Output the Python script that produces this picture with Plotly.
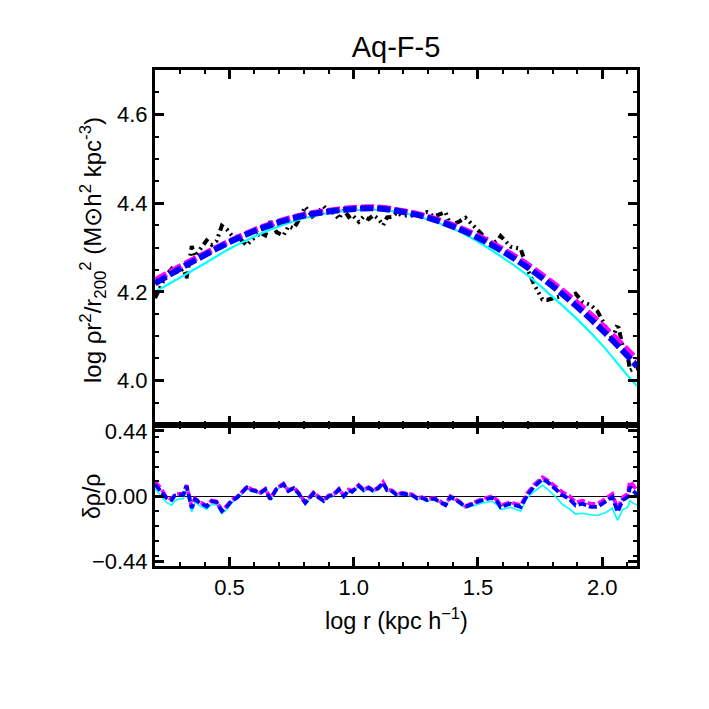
import plotly.graph_objects as go

# ---------------- data ----------------
x_model = [0.2, 0.3, 0.4, 0.5, 0.6, 0.7, 0.8, 0.9, 1.0, 1.1, 1.2, 1.3, 1.4,
           1.5, 1.6, 1.7, 1.8, 1.9, 2.0, 2.1, 2.14]
fit_magenta = [4.226, 4.257, 4.286, 4.314, 4.339, 4.359, 4.374, 4.383, 4.389, 4.390,
               4.382, 4.369, 4.350, 4.326, 4.296, 4.261, 4.220, 4.175, 4.125, 4.070, 4.047]
fit_blue = [4.219, 4.252, 4.283, 4.312, 4.337, 4.357, 4.372, 4.381, 4.387, 4.388,
            4.380, 4.367, 4.347, 4.322, 4.291, 4.255, 4.213, 4.166, 4.114, 4.057, 4.032]
fit_cyan = [4.200, 4.232, 4.264, 4.297, 4.325, 4.348, 4.366, 4.378, 4.384, 4.385,
            4.378, 4.363, 4.342, 4.313, 4.277, 4.237, 4.189, 4.138, 4.080, 4.013, 3.988]

x_data = [0.200, 0.225, 0.245, 0.267, 0.280, 0.294, 0.314, 0.327, 0.348, 0.361,
          0.381, 0.408, 0.428, 0.448, 0.469, 0.489, 0.509, 0.530, 0.543, 0.570,
          0.590, 0.605, 0.623, 0.644, 0.664, 0.690, 0.717, 0.737, 0.758, 0.777,
          0.805, 0.822, 0.838, 0.852, 0.879, 0.899, 0.920, 0.940, 0.960, 0.980,
          0.993, 1.020, 1.040, 1.060, 1.080, 1.100, 1.118, 1.134, 1.154, 1.174,
          1.194, 1.221, 1.235, 1.255, 1.275, 1.295, 1.322, 1.342, 1.369, 1.389,
          1.423, 1.450, 1.470, 1.497, 1.517, 1.557, 1.578, 1.591, 1.631, 1.672,
          1.698, 1.725, 1.759, 1.779, 1.813, 1.840, 1.866, 1.893, 1.920, 1.954,
          1.981, 2.014, 2.041, 2.062, 2.082, 2.102, 2.112, 2.122, 2.140]
profile_data = [4.186, 4.214, 4.238, 4.252, 4.243, 4.246, 4.252, 4.231, 4.303, 4.280,
                4.297, 4.316, 4.306, 4.315, 4.349, 4.341, 4.327, 4.324, 4.319, 4.305,
                4.318, 4.323, 4.333, 4.327, 4.359, 4.334, 4.327, 4.348, 4.343, 4.360,
                4.392, 4.378, 4.366, 4.377, 4.393, 4.381, 4.378, 4.364, 4.385, 4.369,
                4.374, 4.358, 4.370, 4.364, 4.373, 4.364, 4.350, 4.368, 4.369, 4.379,
                4.372, 4.372, 4.372, 4.380, 4.375, 4.380, 4.370, 4.374, 4.380, 4.351,
                4.358, 4.367, 4.355, 4.340, 4.329, 4.308, 4.315, 4.326, 4.302, 4.297,
                4.253, 4.218, 4.183, 4.182, 4.187, 4.191, 4.189, 4.196, 4.178, 4.170,
                4.156, 4.123, 4.093, 4.128, 4.079, 4.058, 4.023, 4.026, 4.028]
res_blue = [0.08, 0.03, -0.01, -0.025, 0.005, 0.01, 0.01, 0.07, -0.08, -0.02,
            -0.045, -0.068, -0.034, -0.04, -0.10, -0.07, -0.03, -0.01, 0.01, 0.06,
            0.04, 0.035, 0.02, 0.045, -0.02, 0.05, 0.08, 0.035, 0.055, 0.02,
            -0.045, -0.01, 0.02, 0.0, -0.032, 0.0, 0.01, 0.045, 0.0, 0.04,
            0.03, 0.07, 0.04, 0.056, 0.034, 0.056, 0.09, 0.04, 0.034, 0.007,
            0.018, 0.011, 0.007, -0.016, -0.011, -0.027, -0.016, -0.034, -0.06, -0.005,
            -0.038, -0.072, -0.056, -0.038, -0.027, -0.01, -0.038, -0.072, -0.05, -0.072,
            0.007, 0.063, 0.115, 0.097, 0.047, 0.007, -0.016, -0.061, -0.05, -0.072,
            -0.072, -0.038, -0.005, -0.106, -0.027, -0.005, 0.063, 0.04, 0.01]
res_magenta = [0.10, 0.05, -0.005, -0.02, 0.01, 0.015, 0.015, 0.075, -0.075, -0.015,
               -0.04, -0.063, -0.029, -0.035, -0.095, -0.065, -0.025, -0.005, 0.015, 0.065,
               0.045, 0.04, 0.025, 0.05, -0.015, 0.055, 0.085, 0.04, 0.06, 0.025,
               -0.04, -0.005, 0.025, 0.005, -0.027, 0.005, 0.015, 0.05, 0.005, 0.045,
               0.035, 0.075, 0.045, 0.061, 0.039, 0.061, 0.095, 0.045, 0.039, 0.012,
               0.023, 0.016, 0.012, -0.011, -0.006, -0.022, -0.011, -0.029, -0.055, 0.0,
               -0.033, -0.067, -0.051, -0.03, -0.017, 0.0, -0.028, -0.062, -0.04, -0.062,
               0.019, 0.075, 0.127, 0.109, 0.067, 0.027, 0.004, -0.041, -0.03, -0.052,
               -0.052, -0.018, 0.015, -0.086, -0.007, 0.015, 0.1, 0.08, 0.04]
res_cyan = [0.05, 0.0, -0.04, -0.061, -0.03, -0.02, -0.015, 0.045, -0.106, -0.04,
            -0.065, -0.088, -0.054, -0.06, -0.117, -0.09, -0.045, -0.02, 0.0, 0.052,
            0.03, 0.03, 0.015, 0.04, -0.025, 0.045, 0.075, 0.03, 0.05, 0.015,
            -0.05, -0.015, 0.015, -0.005, -0.037, -0.005, 0.005, 0.04, -0.005, 0.035,
            0.025, 0.065, 0.035, 0.051, 0.029, 0.051, 0.085, 0.035, 0.029, 0.002,
            0.013, 0.006, 0.002, -0.021, -0.016, -0.032, -0.021, -0.039, -0.065, -0.01,
            -0.043, -0.08, -0.07, -0.055, -0.045, -0.034, -0.06, -0.09, -0.075, -0.1,
            -0.01, 0.03, 0.074, 0.05, -0.005, -0.056, -0.083, -0.12, -0.115, -0.125,
            -0.13, -0.11, -0.08, -0.163, -0.09, -0.075, -0.03, -0.045, -0.06]

x_ticks = [0.5, 1.0, 1.5, 2.0]
x_ticklabels = ["0.5", "1.0", "1.5", "2.0"]
top_ticks = [4.0, 4.2, 4.4, 4.6]
top_ticklabels = ["4.0", "4.2", "4.4", "4.6"]
bot_ticks = [-0.44, 0.0, 0.44]
bot_ticklabels = ["\u22120.44", "0.00", "0.44"]

# ---------------- figure ----------------
OFF = 8                      # default page body margin
W, H = 693, 693              # figure size so that the page fits the window
# target plot-area edges in window pixels
L_s, R_s, T_s, B_s = 155, 637, 70, 566
split_s = 425
L, R, T, B = L_s - OFF, R_s - OFF, T_s - OFF, B_s - OFF
frac = (B_s - split_s) / (B_s - T_s)

FONT = "Liberation Sans, Arial, Helvetica, sans-serif"

fig = go.Figure()

# top panel
fig.add_trace(go.Scatter(x=x_data, y=profile_data, mode="lines", xaxis="x2", yaxis="y",
                         line=dict(color="black", width=4,
                                   dash="7px,4px,2px,4px,2px,4px,2px,4px")))
fig.add_trace(go.Scatter(x=x_model, y=fit_cyan, mode="lines", xaxis="x2", yaxis="y",
                         line=dict(color="#00FFFF", width=2.2, shape="spline")))
fig.add_trace(go.Scatter(x=x_model, y=fit_magenta, mode="lines", xaxis="x2", yaxis="y",
                         line=dict(color="#FF00FF", width=6, dash="13px,4px", shape="spline")))
fig.add_trace(go.Scatter(x=x_model, y=fit_blue, mode="lines", xaxis="x2", yaxis="y",
                         line=dict(color="#0000FF", width=6, dash="13px,4px", shape="spline")))

# bottom panel
fig.add_trace(go.Scatter(x=x_data, y=res_cyan, mode="lines", xaxis="x", yaxis="y2",
                         line=dict(color="#00FFFF", width=1.6)))
fig.add_trace(go.Scatter(x=x_data, y=res_magenta, mode="lines", xaxis="x", yaxis="y2",
                         line=dict(color="#FF00FF", width=3.8, dash="8px,3px")))
fig.add_trace(go.Scatter(x=x_data, y=res_blue, mode="lines", xaxis="x", yaxis="y2",
                         line=dict(color="#0000FF", width=3.8, dash="8px,3px")))

axis_common = dict(showline=True, linecolor="black", linewidth=3, mirror="ticks",
                   ticks="inside", ticklen=9, tickwidth=2.5, tickcolor="black",
                   showgrid=False,
                   tickfont=dict(family=FONT, size=22, color="black"))

minor_x = dict(tickmode="linear", tick0=0, dtick=0.1, ticks="inside",
               ticklen=4, tickwidth=2, tickcolor="black")

fig.update_layout(
    width=W, height=H,
    margin=dict(l=L, r=W - R, t=T, b=H - B, pad=0),
    paper_bgcolor="white", plot_bgcolor="white",
    showlegend=False,
    font=dict(family=FONT, color="black"),
    title=dict(text="Aq-F-5", x=(L + R) / 2 / W, xanchor="center",
               y=1 - (47 - OFF) / H, yanchor="middle",
               font=dict(family=FONT, size=29, color="black")),
    xaxis=dict(domain=[0, 1], anchor="y2", range=[0.2, 2.14],
               tickmode="array", tickvals=x_ticks, ticktext=x_ticklabels,
               minor=minor_x, zeroline=False, **axis_common),
    xaxis2=dict(domain=[0, 1], anchor="y", range=[0.2, 2.14], matches="x",
                tickmode="array", tickvals=x_ticks, showticklabels=False,
                minor=minor_x, zeroline=False, **axis_common),
    yaxis=dict(domain=[frac, 1], anchor="x2", range=[3.9, 4.7],
               tickmode="array", tickvals=top_ticks, ticktext=top_ticklabels,
               minor=dict(tickmode="linear", tick0=4.0, dtick=0.05, ticks="inside",
                          ticklen=4, tickwidth=2, tickcolor="black"),
               zeroline=False, **axis_common),
    yaxis2=dict(domain=[0, frac], anchor="x", range=[-0.47, 0.48],
                tickmode="array", tickvals=bot_ticks, ticktext=bot_ticklabels,
                minor=dict(tickmode="linear", tick0=0, dtick=0.1, ticks="inside",
                           ticklen=4, tickwidth=2, tickcolor="black"),
                zeroline=True, zerolinecolor="black", zerolinewidth=1,
                **axis_common),
)

# axis titles (positions relative to the plot area)
PW, PH = R - L, B - T
fig.add_annotation(text="log r (kpc h<sup>\u22121</sup>)", xref="paper", yref="paper",
                   x=(396 - L_s) / PW, y=(B_s - 619) / PH, xanchor="center", yanchor="middle",
                   showarrow=False, font=dict(family=FONT, size=23.5, color="black"))
fig.add_annotation(text="log \u03c1r<sup>2</sup>/r<sub>200</sub><sup>2</sup> (M\u2299h<sup>2</sup> kpc<sup>-3</sup>)",
                   xref="paper", yref="paper",
                   x=(93 - L_s) / PW, y=(B_s - 250) / PH, xanchor="center", yanchor="middle",
                   textangle=-90, showarrow=False,
                   font=dict(family=FONT, size=24, color="black"))
fig.add_annotation(text="\u03b4\u03c1/\u03c1", xref="paper", yref="paper",
                   x=(92 - L_s) / PW, y=(B_s - 497) / PH, xanchor="center", yanchor="middle",
                   textangle=-90, showarrow=False,
                   font=dict(family=FONT, size=23, color="black"))

fig.write_html("out.html")
